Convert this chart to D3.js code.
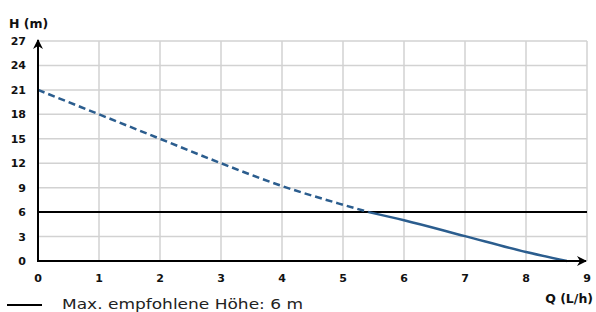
<!DOCTYPE html>
<html><head><meta charset="utf-8">
<script src="https://cdn.jsdelivr.net/npm/d3@7"></script>
<style>body{margin:0;background:#fff}svg{display:block}</style>
</head><body>
<svg id="c" width="596" height="312"></svg>
<script>
const flowQ = [0, 1, 2, 3, 4, 5, 5.42, 6, 7, 8, 8.67];
const headH = [21, 18, 15, 12, 9.2, 6.9, 6, 5.0, 3.05, 1.1, 0];
const maxHead = 6;
const xTicks = [0,1,2,3,4,5,6,7,8,9];
const yTicks = [0,3,6,9,12,15,18,21,24,27];
const yLabel = "H (m)";
const xLabel = "Q (L/h)";
const legendLabel = "Max. empfohlene Höhe: 6 m";

const svg = d3.select("#c");
const x = d3.scaleLinear().domain([0, 9]).range([38, 587]);
const y = d3.scaleLinear().domain([0, 27]).range([261, 41]);
const font = "'DejaVu Sans', sans-serif";

// grid
svg.append("g").selectAll("line").data(xTicks.slice(1)).join("line")
  .attr("x1", d => x(d)).attr("x2", d => x(d)).attr("y1", y(0)).attr("y2", y(27))
  .attr("stroke", "#d2d2d2").attr("stroke-width", 1.5);
svg.append("g").selectAll("line").data(yTicks.slice(1)).join("line")
  .attr("x1", x(0)).attr("x2", x(9)).attr("y1", d => y(d)).attr("y2", d => y(d))
  .attr("stroke", "#d2d2d2").attr("stroke-width", 1.5);

// max head line
svg.append("line").attr("x1", x(0)).attr("x2", x(9)).attr("y1", y(maxHead)).attr("y2", y(maxHead))
  .attr("stroke", "#000").attr("stroke-width", 2);

// curve
const pts = flowQ.map((q, i) => [q, headH[i]]);
const iCut = headH.indexOf(maxHead);
const line = d3.line().x(d => x(d[0])).y(d => y(d[1])).curve(d3.curveMonotoneX);
svg.append("path").attr("d", line(pts.slice(0, iCut + 1))).attr("fill", "none")
  .attr("stroke", "#2b5d8e").attr("stroke-width", 2.5).attr("stroke-dasharray", "7,4");
svg.append("path").attr("d", line(pts.slice(iCut))).attr("fill", "none")
  .attr("stroke", "#2b5d8e").attr("stroke-width", 2.5);

// axes with arrows
const defs = svg.append("defs");
defs.append("marker").attr("id", "arr").attr("viewBox", "0 0 10 10").attr("refX", 9).attr("refY", 5)
  .attr("markerWidth", 5).attr("markerHeight", 5).attr("markerUnits", "strokeWidth").attr("orient", "auto")
  .append("path").attr("d", "M0,0 L10,5 L0,10 L3,5 Z").attr("fill", "#000");
svg.append("line").attr("x1", x(0)).attr("x2", x(0)).attr("y1", y(0) + 1).attr("y2", y(27) - 1)
  .attr("stroke", "#000").attr("stroke-width", 2).attr("marker-end", "url(#arr)");
svg.append("line").attr("x1", x(0) - 1).attr("x2", x(9) - 1).attr("y1", y(0)).attr("y2", y(0))
  .attr("stroke", "#000").attr("stroke-width", 2).attr("marker-end", "url(#arr)");

// tick labels
svg.append("g").selectAll("text").data(yTicks).join("text")
  .attr("x", 26).attr("y", d => y(d)).attr("dy", "0.36em").attr("text-anchor", "end")
  .attr("font-family", font).attr("font-weight", "bold").attr("font-size", 11).attr("fill", "#111")
  .text(d => d);
svg.append("g").selectAll("text").data(xTicks).join("text")
  .attr("x", d => x(d)).attr("y", 278).attr("dy", "0.36em").attr("text-anchor", "middle")
  .attr("font-family", font).attr("font-weight", "bold").attr("font-size", 11).attr("fill", "#111")
  .text(d => d);

svg.append("text").attr("x", 9).attr("y", 23).attr("dy", "0.36em")
  .attr("font-family", font).attr("font-weight", "bold").attr("font-size", 12.5).attr("fill", "#111").text(yLabel);
svg.append("text").attr("x", 593).attr("y", 298).attr("dy", "0.36em").attr("text-anchor", "end")
  .attr("font-family", font).attr("font-weight", "bold").attr("font-size", 12.5).attr("fill", "#111").text(xLabel);

// legend
svg.append("line").attr("x1", 7).attr("x2", 42).attr("y1", 305).attr("y2", 305)
  .attr("stroke", "#000").attr("stroke-width", 2);
svg.append("text").attr("x", 62).attr("y", 309)
  .attr("font-family", font).attr("font-size", 14).attr("fill", "#222")
  .attr("textLength", 241).attr("lengthAdjust", "spacingAndGlyphs").text(legendLabel);
</script>
</body></html>
